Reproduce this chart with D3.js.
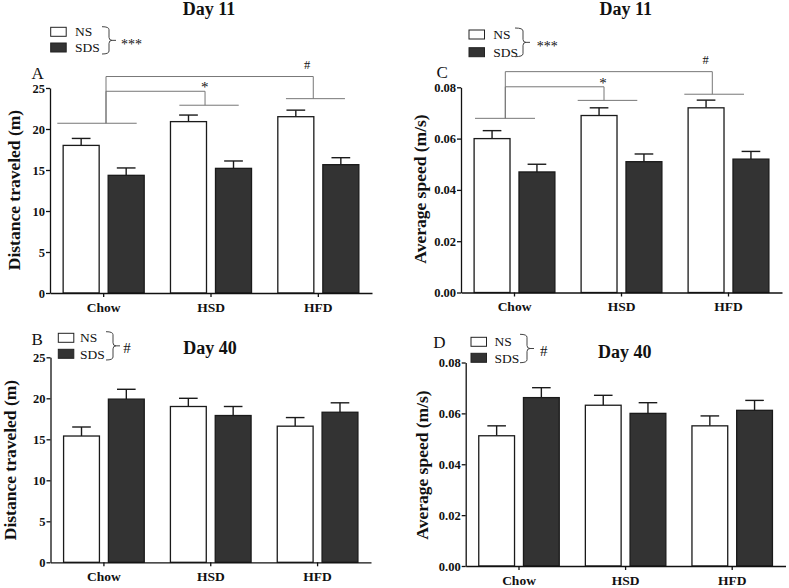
<!DOCTYPE html>
<html>
<head>
<meta charset="utf-8">
<script src="https://cdn.jsdelivr.net/npm/d3@7/dist/d3.min.js"></script>
<style>
  html, body { margin: 0; padding: 0; background: #fff; }
  svg { display: block; }
  text { font-family: "Liberation Serif", "Times New Roman", serif; fill: #111; }
</style>
</head>
<body>
<svg id="chart" width="789" height="588"></svg>
<script>
// ---------------- DATA ----------------
const groups = ["Chow", "HSD", "HFD"];
const seriesNames = ["NS", "SDS"];
const distTicks = [0, 5, 10, 15, 20, 25];
const speedTicks = [0, 0.02, 0.04, 0.06, 0.08];

const day11DistNS = [18.0, 20.9, 21.5];
const day11DistNSErr = [0.85, 0.8, 0.8];
const day11DistSDS = [14.35, 15.2, 15.65];
const day11DistSDSErr = [0.9, 0.9, 0.85];

const day40DistNS = [15.4, 19.0, 16.6];
const day40DistNSErr = [1.1, 1.0, 1.05];
const day40DistSDS = [19.9, 17.9, 18.3];
const day40DistSDSErr = [1.2, 1.1, 1.15];

const day11SpeedNS = [0.060, 0.069, 0.072];
const day11SpeedNSErr = [0.0031, 0.003, 0.003];
const day11SpeedSDS = [0.047, 0.051, 0.052];
const day11SpeedSDSErr = [0.003, 0.003, 0.003];

const day40SpeedNS = [0.0512, 0.0632, 0.0551];
const day40SpeedNSErr = [0.0039, 0.0039, 0.0039];
const day40SpeedSDS = [0.0662, 0.060, 0.0612];
const day40SpeedSDSErr = [0.0039, 0.0042, 0.0039];

// ---------------- LAYOUT ----------------
const svg = d3.select("#chart");
const fills = { NS: "#ffffff", SDS: "#333333" };

const panels = [
  { letter: "A", title: "Day 11", ylabel: "Distance traveled (m)",
    ns: day11DistNS, nsErr: day11DistNSErr, sds: day11DistSDS, sdsErr: day11DistSDSErr,
    ticks: distTicks, fmt: d3.format("d"), ymax: 25,
    x0: 50, x1: 372, yBottom: 293, yTop: 88,
    ylabX: 19.5, ylabY: 190,
    titleX: 209, titleY: 15, letterX: 31.5, letterY: 79,
    legend: { boxX: 50.7, nsY: 27.3, sdsY: 43, textX: 75, nsBase: 35.8, sdsBase: 52.3,
              braceL: 102, braceR: 109, braceT: 26.7, braceB: 54, mark: "***", markX: 121, markY: 49, markSize: 14 },
    sig: { short: [ {g: 0, lvl: 20.7, a: 7.3, b: 86.7, v: 56},
                    {g: 1, lvl: 22.9, a: 22, b: 81.4, v: 47.7},
                    {g: 2, lvl: 23.7, a: 21.3, b: 80.3, v: 48.6} ],
           links: [ {to: 1, lvl: 24.6, mark: "*", mx: 204.7, my: 91.5, ms: 15},
                    {to: 2, lvl: 26.4, mark: "#", mx: 307, my: 68.5, ms: 12.5} ] } },
  { letter: "C", title: "Day 11", ylabel: "Average speed (m/s)",
    ns: day11SpeedNS, nsErr: day11SpeedNSErr, sds: day11SpeedSDS, sdsErr: day11SpeedSDSErr,
    ticks: speedTicks, fmt: d3.format(".2f"), ymax: 0.08,
    x0: 461, x1: 782, yBottom: 292.5, yTop: 87.3,
    ylabX: 425.5, ylabY: 189,
    titleX: 625.7, titleY: 15, letterX: 436.5, letterY: 78,
    legend: { boxX: 469, nsY: 30, sdsY: 47.7, textX: 493.3, nsBase: 38.6, sdsBase: 56.6,
              braceL: 515, braceR: 523, braceT: 28, braceB: 56.7, mark: "***", markX: 536.7, markY: 50.5, markSize: 14 },
    sig: { short: [ {g: 0, lvl: 0.0679, a: 14, b: 74, v: 44.3},
                    {g: 1, lvl: 0.0749, a: 9.7, b: 69.3, v: 36},
                    {g: 2, lvl: 0.0773, a: 9.3, b: 69, v: 37.3} ],
           links: [ {to: 1, lvl: 0.0802, mark: "*", mx: 603, my: 88, ms: 15},
                    {to: 2, lvl: 0.0861, mark: "#", mx: 705.7, my: 63.5, ms: 12.5} ] } },
  { letter: "B", title: "Day 40", ylabel: "Distance traveled (m)",
    ns: day40DistNS, nsErr: day40DistNSErr, sds: day40DistSDS, sdsErr: day40DistSDSErr,
    ticks: distTicks, fmt: d3.format("d"), ymax: 25,
    x0: 50.5, x1: 371, yBottom: 562.3, yTop: 357.3,
    ylabX: 16, ylabY: 460,
    titleX: 210, titleY: 354.3, letterX: 31.5, letterY: 345,
    legend: { boxX: 58.3, nsY: 333.3, sdsY: 349.3, textX: 80, nsBase: 341.8, sdsBase: 359.2,
              braceL: 106, braceR: 113, braceT: 331.7, braceB: 360, mark: "#", markX: 123.3, markY: 353, markSize: 15 },
    sig: null },
  { letter: "D", title: "Day 40", ylabel: "Average speed (m/s)",
    ns: day40SpeedNS, nsErr: day40SpeedNSErr, sds: day40SpeedSDS, sdsErr: day40SpeedSDSErr,
    ticks: speedTicks, fmt: d3.format(".2f"), ymax: 0.08,
    x0: 465.7, x1: 785.5, yBottom: 566, yTop: 362.5,
    ylabX: 427.5, ylabY: 465,
    titleX: 624.7, titleY: 357.7, letterX: 433.3, letterY: 348.3,
    legend: { boxX: 471, nsY: 337.3, sdsY: 353.3, textX: 494.5, nsBase: 345.8, sdsBase: 362.6,
              braceL: 520, braceR: 527, braceT: 334.3, braceB: 362.7, mark: "#", markX: 540, markY: 356, markSize: 15 },
    sig: null }
];

function drawPanel(p) {
  const g = svg.append("g");
  const x = d3.scaleBand().domain(groups).range([p.x0, p.x1]).padding(0);
  const xi = d3.scaleBand().domain(seriesNames).range([0, x.bandwidth()])
               .paddingInner(0.2).paddingOuter(0.292);
  const y = d3.scaleLinear().domain([0, p.ymax]).range([p.yBottom, p.yTop]);

  const rows = [];
  groups.forEach((grp, i) => {
    rows.push({ grp, s: "NS", v: p.ns[i], e: p.nsErr[i] });
    rows.push({ grp, s: "SDS", v: p.sds[i], e: p.sdsErr[i] });
  });

  // error bars (upper only)
  const eb = g.append("g").attr("stroke", "#1a1a1a").attr("stroke-width", 1.4);
  rows.forEach(r => {
    const cx = x(r.grp) + xi(r.s) + xi.bandwidth() / 2;
    const capW = xi.bandwidth() * 0.26;
    eb.append("line").attr("x1", cx).attr("x2", cx).attr("y1", y(r.v)).attr("y2", y(r.v + r.e));
    eb.append("line").attr("x1", cx - capW).attr("x2", cx + capW).attr("y1", y(r.v + r.e)).attr("y2", y(r.v + r.e));
  });

  // bars
  g.append("g").selectAll("rect").data(rows).join("rect")
    .attr("x", d => x(d.grp) + xi(d.s))
    .attr("y", d => y(d.v))
    .attr("width", xi.bandwidth())
    .attr("height", d => y(0) - y(d.v))
    .attr("fill", d => fills[d.s])
    .attr("stroke", "#1a1a1a")
    .attr("stroke-width", 1.3);

  // axes
  const ya = d3.axisLeft(y).tickValues(p.ticks).tickFormat(p.fmt).tickSize(4).tickSizeOuter(0).tickPadding(1);
  const yg = g.append("g").attr("transform", `translate(${p.x0},0)`).call(ya);
  const xa = d3.axisBottom(x).tickSize(4).tickSizeOuter(0).tickPadding(5);
  const xg = g.append("g").attr("transform", `translate(0,${p.yBottom})`).call(xa);
  [yg, xg].forEach(ax => {
    ax.selectAll("path, line").attr("stroke", "#111").attr("stroke-width", 1.3);
    ax.selectAll("text").style("font-family", '"Liberation Serif", serif').style("font-weight", "bold").attr("fill", "#111");
  });
  yg.selectAll("text").style("font-size", "12.5px");
  xg.selectAll("text").style("font-size", "13.5px");

  // y label
  g.append("text").attr("transform", `translate(${p.ylabX},${p.ylabY}) rotate(-90)`)
    .attr("text-anchor", "middle").style("font-size", "17.5px").style("font-weight", "bold").text(p.ylabel);

  // title & panel letter
  g.append("text").attr("x", p.titleX).attr("y", p.titleY).attr("text-anchor", "middle")
    .style("font-size", "18px").style("font-weight", "bold").text(p.title);
  g.append("text").attr("x", p.letterX).attr("y", p.letterY).style("font-size", "17px").text(p.letter);

  // legend
  const L = p.legend;
  [["NS", L.nsY, L.nsBase], ["SDS", L.sdsY, L.sdsBase]].forEach(([s, by, tb]) => {
    g.append("rect").attr("x", L.boxX).attr("y", by).attr("width", 15.5).attr("height", 9)
      .attr("fill", fills[s]).attr("stroke", "#222").attr("stroke-width", 1);
    g.append("text").attr("x", L.textX).attr("y", tb).style("font-size", "13.5px").attr("fill", "#333").text(s);
  });
  const mid = (L.braceT + L.braceB) / 2, r = 3;
  g.append("path").attr("fill", "none").attr("stroke", "#444").attr("stroke-width", 1)
    .attr("d", `M${L.braceL},${L.braceT} Q${L.braceR},${L.braceT} ${L.braceR},${L.braceT + r}
      V${mid - r} Q${L.braceR},${mid} ${L.braceR + r},${mid} Q${L.braceR},${mid} ${L.braceR},${mid + r}
      V${L.braceB - r} Q${L.braceR},${L.braceB} ${L.braceL},${L.braceB}
      M${L.braceR + r},${mid} H${L.braceR + r + 4}`);
  g.append("text").attr("x", L.markX).attr("y", L.markY).style("font-size", L.markSize + "px").attr("fill", "#333").text(L.mark);

  // significance brackets
  if (p.sig) {
    const sg = g.append("g").attr("stroke", "#777").attr("stroke-width", 1).attr("fill", "none");
    const vx = {};
    p.sig.short.forEach(s => {
      const bx = x(groups[s.g]);
      sg.append("line").attr("x1", bx + s.a).attr("x2", bx + s.b).attr("y1", y(s.lvl)).attr("y2", y(s.lvl));
      vx[s.g] = { x: bx + s.v, lvl: s.lvl };
    });
    p.sig.links.forEach(l => {
      const a = vx[0], b = vx[l.to];
      sg.append("path").attr("d", `M${a.x},${y(a.lvl)} V${y(l.lvl)} H${b.x} V${y(b.lvl)}`);
      g.append("text").attr("x", l.mx).attr("y", l.my).attr("text-anchor", "middle")
        .style("font-size", l.ms + "px").attr("fill", "#333").text(l.mark);
    });
  }
}

panels.forEach(drawPanel);
</script>
</body>
</html>
